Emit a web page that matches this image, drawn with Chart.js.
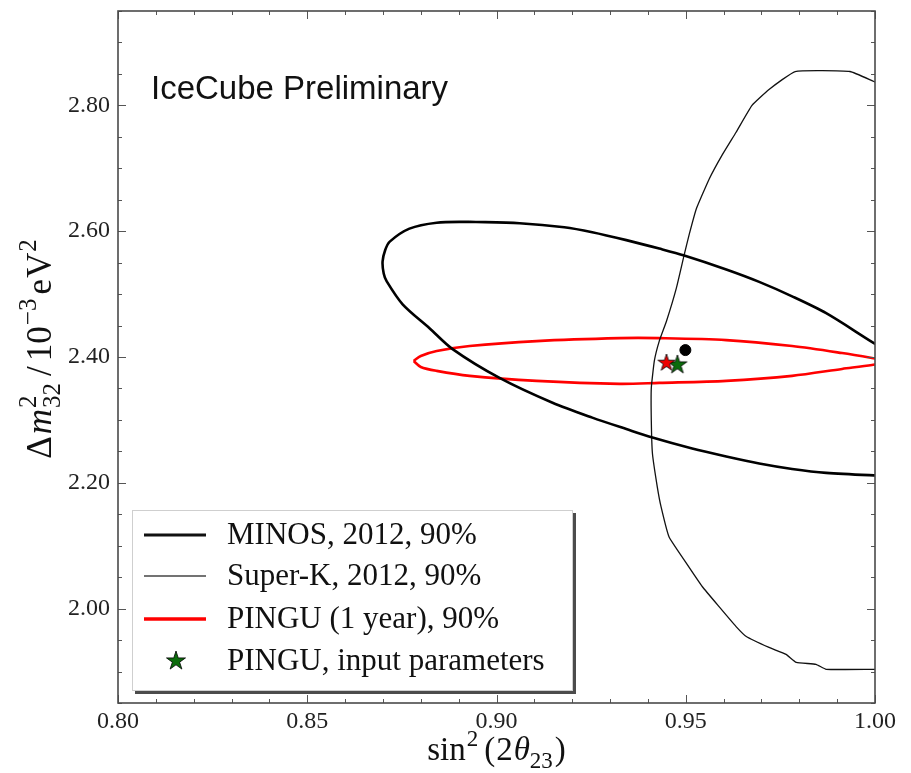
<!DOCTYPE html>
<html><head><meta charset="utf-8">
<script src="https://cdn.jsdelivr.net/npm/chart.js@4.4.1/dist/chart.umd.min.js"></script>
<style>html,body{margin:0;padding:0;background:#fff;}#c{display:block;}</style>
</head><body>
<canvas id="c" width="911" height="773"></canvas>
<script>
// ---- axis setup ----
const xRange = [0.80, 1.00];
const yRange = [1.85, 2.95];
const xTicks = [0.80, 0.85, 0.90, 0.95, 1.00];
const yTicks = [2.00, 2.20, 2.40, 2.60, 2.80];
const xMinorStep = 0.01;
const yMinorStep = 0.05;

// ---- MINOS 2012 90% contour ----
const minosX = [0.8929,0.9061,0.9179,0.9253,0.9343,0.9430,0.9496,0.9607,0.9694,0.9781,0.9871,0.9997,1.010,1.020,1.010,0.9997,0.9871,0.9781,0.9694,0.9607,0.9517,0.9412,0.9343,0.9253,0.9148,0.9008,0.8884,0.8823,0.8752,0.8710,0.8702,0.8699,0.8706,0.8718,0.8770,0.8842,0.8929];
const minosY = [2.6150,2.6127,2.6063,2.5984,2.5858,2.5723,2.5613,2.5391,2.5194,2.4964,2.4696,2.4221,2.385,2.300,2.210,2.2119,2.2158,2.2221,2.2308,2.2419,2.2545,2.2719,2.2854,2.3036,2.3273,2.3668,2.4126,2.4458,2.4838,2.5202,2.5328,2.5518,2.5700,2.5834,2.6040,2.6134,2.6150];

// ---- Super-K 2012 90% contour ----
const superkX = [1.010,0.9997,0.9934,0.9789,0.9720,0.9675,0.9633,0.9596,0.9562,0.9528,0.9509,0.9496,0.9475,0.9449,0.9430,0.9417,0.9409,0.9409,0.9412,0.9425,0.9435,0.9456,0.9501,0.9544,0.9588,0.9633,0.9660,0.9720,0.9765,0.9792,0.9844,0.9871,0.9997,1.010];
const superkY = [2.812,2.8379,2.8538,2.8538,2.8253,2.8000,2.7573,2.7209,2.6830,2.6356,2.5945,2.5628,2.5091,2.4569,2.4253,2.3937,2.3510,2.2988,2.2466,2.1929,2.1613,2.1138,2.0727,2.0348,2.0032,1.9715,1.9557,1.9383,1.9273,1.9146,1.9115,1.9036,1.9036,1.9036];

// ---- PINGU (1 year) 90% contour ----
const pinguX = [0.8781,0.8800,0.8842,0.8929,0.9106,0.9325,0.9430,0.9607,0.9781,0.9913,0.9992,1.004,0.9992,0.9913,0.9781,0.9607,0.9430,0.9325,0.9106,0.8929,0.8842,0.8800,0.8781];
const pinguY = [2.3937,2.4016,2.4095,2.4174,2.4253,2.4300,2.4300,2.4269,2.4174,2.4063,2.3984,2.3930,2.3874,2.3810,2.3700,2.3621,2.3589,2.3573,2.3621,2.3700,2.3779,2.3842,2.3937];

// ---- best fit / input points ----
const bestFitPoint = {x: 0.9499, y: 2.411};
const redStarPoint = {x: 0.9449, y: 2.3905};
const inputPoint = {x: 0.9478, y: 2.3874};

const legendLabels = ['MINOS, 2012, 90%', 'Super-K, 2012, 90%', 'PINGU (1 year), 90%', 'PINGU, input parameters'];
const titleText = 'IceCube Preliminary';

function pts(xs, ys){ return xs.map((x,i)=>({x:x, y:ys[i]})); }

function makeStar(fill, r){
  const s = Math.ceil(r*2+4);
  const c = document.createElement('canvas');
  c.width = s; c.height = s;
  const g = c.getContext('2d');
  g.translate(s/2, s/2);
  g.beginPath();
  for (let i=0;i<10;i++){
    const rr = (i%2===0) ? r : r*0.382;
    const a = -Math.PI/2 + i*Math.PI/5;
    g.lineTo(rr*Math.cos(a), rr*Math.sin(a));
  }
  g.closePath();
  g.fillStyle = fill; g.fill();
  g.lineWidth = 0.8; g.strokeStyle = '#000'; g.stroke();
  return c;
}
const redStar = makeStar('#ee0000', 9);
const greenStar = makeStar('#0b6b0b', 10);

const SERIF = '"Liberation Serif", "DejaVu Serif", serif';

function runFont(size, it){ return (it ? 'italic ' : '') + size + 'px ' + SERIF; }
function runWidth(ctx, r, base){
  const small = Math.round(base*0.7);
  let w = 0;
  if (r.t !== undefined){ ctx.font = runFont(base, r.it); w = ctx.measureText(r.t).width; }
  else {
    ctx.font = runFont(small, false);
    if (r.sup) w = Math.max(w, ctx.measureText(r.sup).width);
    if (r.sub) w = Math.max(w, ctx.measureText(r.sub).width);
  }
  return w + (r.pre||0) + (r.post||0);
}
function drawRuns(ctx, runs, cx, base){
  const small = Math.round(base*0.7);
  let total = 0;
  runs.forEach(r=>{ total += runWidth(ctx, r, base); });
  let x = cx - total/2;
  ctx.textAlign = 'left'; ctx.textBaseline = 'alphabetic';
  runs.forEach(r=>{
    const w = runWidth(ctx, r, base);
    const x0 = x + (r.pre||0);
    if (r.t !== undefined){
      ctx.font = runFont(base, r.it); ctx.fillText(r.t, x0, 0);
    } else {
      ctx.font = runFont(small, false);
      if (r.sup) ctx.fillText(r.sup, x0, -base*0.42);
      if (r.sub) ctx.fillText(r.sub, x0, base*0.25);
    }
    x += w;
  });
}

const overlay = {
  id: 'overlay',
  afterDraw(chart){
    const ctx = chart.ctx, a = chart.chartArea;
    const xs = chart.scales.x, ys = chart.scales.y;
    ctx.save();
    // ticks (inward, all four sides)
    ctx.strokeStyle = '#555'; ctx.lineWidth = 1;
    const ln = (x1,y1,x2,y2)=>{ ctx.beginPath(); ctx.moveTo(x1,y1); ctx.lineTo(x2,y2); ctx.stroke(); };
    const nx = Math.round((xRange[1]-xRange[0])/xMinorStep);
    for (let i=0;i<=nx;i++){
      const v = xRange[0] + i*xMinorStep;
      const major = xTicks.some(t=>Math.abs(t-v)<1e-6);
      const L = major ? 8 : 4;
      const px = Math.round(xs.getPixelForValue(v)) + 0.5;
      ln(px, a.bottom, px, a.bottom-L);
      ln(px, a.top, px, a.top+L);
    }
    const ny = Math.round((yRange[1]-yRange[0])/yMinorStep);
    for (let i=0;i<=ny;i++){
      const v = yRange[0] + i*yMinorStep;
      const major = yTicks.some(t=>Math.abs(t-v)<1e-6);
      const L = major ? 8 : 4;
      const py = Math.round(ys.getPixelForValue(v)) + 0.5;
      ln(a.left, py, a.left+L, py);
      ln(a.right, py, a.right-L, py);
    }
    // frame
    ctx.strokeStyle = '#4a4a4a'; ctx.lineWidth = 1.6;
    ctx.strokeRect(a.left, a.top, a.right-a.left, a.bottom-a.top);

    // title
    ctx.fillStyle = '#111';
    ctx.font = '33px "Liberation Sans", Arial, sans-serif';
    ctx.textAlign = 'left'; ctx.textBaseline = 'alphabetic';
    ctx.fillText(titleText, a.left + 33, a.top + 88);

    // legend
    const lx = a.left + 14, ly = a.top + 499, lw = 441, lh = 181;
    ctx.fillStyle = '#4c4c4c';
    ctx.fillRect(lx+3, ly+3, lw, lh);
    ctx.fillStyle = '#fff';
    ctx.fillRect(lx, ly, lw, lh);
    ctx.strokeStyle = '#cfcfcf'; ctx.lineWidth = 1;
    ctx.strokeRect(lx+0.5, ly+0.5, lw-1, lh-1);
    const rows = [ly+25, ly+66, ly+109, ly+151];
    const lineStyles = [{c:'#111', w:3.2}, {c:'#444', w:1.4}, {c:'#ff0000', w:3.6}];
    for (let i=0;i<3;i++){
      ctx.strokeStyle = lineStyles[i].c; ctx.lineWidth = lineStyles[i].w;
      ln(lx+12, rows[i], lx+74, rows[i]);
    }
    ctx.drawImage(greenStar, lx+44-greenStar.width/2, rows[3]-greenStar.height/2);
    ctx.fillStyle = '#111';
    ctx.font = '31px ' + SERIF;
    ctx.textBaseline = 'middle';
    legendLabels.forEach((t,i)=>{ ctx.fillText(t, lx+95, rows[i]+1); });

    // x axis title
    ctx.fillStyle = '#111';
    ctx.save();
    ctx.translate(0, a.bottom + 57);
    drawRuns(ctx, [{t:'sin', post:1},{sup:'2', post:6},{t:'(', post:1},{t:'2', post:1},{t:'\u03b8', it:true},{sub:'23', post:2},{t:')'}], (a.left+a.right)/2, 33);
    ctx.restore();
    // y axis title
    ctx.save();
    ctx.translate(51, (a.top+a.bottom)/2 - 8);
    ctx.rotate(-Math.PI/2);
    drawRuns(ctx, [{t:'\u0394', post:2},{t:'m', it:true, post:1},{sup:'2', sub:'32', post:3},{t:'/', pre:4, post:5},{t:'10', post:1},{sup:'\u22123', post:4},{t:'e', post:1},{t:'V', post:1},{sup:'2'}], 0, 35);
    ctx.restore();
    ctx.restore();
  }
};

new Chart(document.getElementById('c'), {
  type: 'scatter',
  data: {
    datasets: [
      {label:'MINOS', data: pts(minosX, minosY), showLine:true, borderColor:'#000', borderWidth:2.6, pointRadius:0, tension:0.3, fill:false, clip:0},
      {label:'Super-K', data: pts(superkX, superkY), showLine:true, borderColor:'#111', borderWidth:1.3, pointRadius:0, tension:0.12, fill:false, clip:0},
      {label:'PINGU', data: pts(pinguX, pinguY), showLine:true, borderColor:'#ff0000', borderWidth:2.6, pointRadius:0, tension:0.3, fill:false, clip:0},
      {label:'best fit', data:[bestFitPoint], pointStyle:'circle', pointRadius:5.5, backgroundColor:'#000', borderColor:'#000', borderWidth:1},
      {label:'PINGU fit', data:[redStarPoint], pointStyle: redStar, pointRadius:9},
      {label:'PINGU, input parameters', data:[inputPoint], pointStyle: greenStar, pointRadius:10}
    ]
  },
  options: {
    responsive: false,
    devicePixelRatio: 1,
    animation: false,
    events: [],
    layout: {padding: {top: 9, right: 36, left: 0, bottom: 0}},
    plugins: {legend: {display:false}, tooltip: {enabled:false}},
    scales: {
      x: {
        type: 'linear', min: xRange[0], max: xRange[1],
        grid: {display:false, drawTicks:false, tickLength:0},
        border: {display:false},
        ticks: {font:{family: SERIF, size:24}, color:'#222', padding:4, callback:(v)=>Number(v).toFixed(2)},
        afterBuildTicks(scale){ scale.ticks = xTicks.map(v=>({value:v})); },
        afterFit(scale){ scale.height = 70; scale.paddingLeft = 0; scale.paddingRight = 0; }
      },
      y: {
        type: 'linear', min: yRange[0], max: yRange[1],
        grid: {display:false, drawTicks:false, tickLength:0},
        border: {display:false},
        ticks: {font:{family: SERIF, size:24}, color:'#222', padding:8, callback:(v)=>Number(v).toFixed(2)},
        afterBuildTicks(scale){ scale.ticks = yTicks.map(v=>({value:v})); },
        afterFit(scale){ scale.width = 118; scale.paddingTop = 0; scale.paddingBottom = 0; }
      }
    }
  },
  plugins: [overlay]
});
</script>
</body></html>
